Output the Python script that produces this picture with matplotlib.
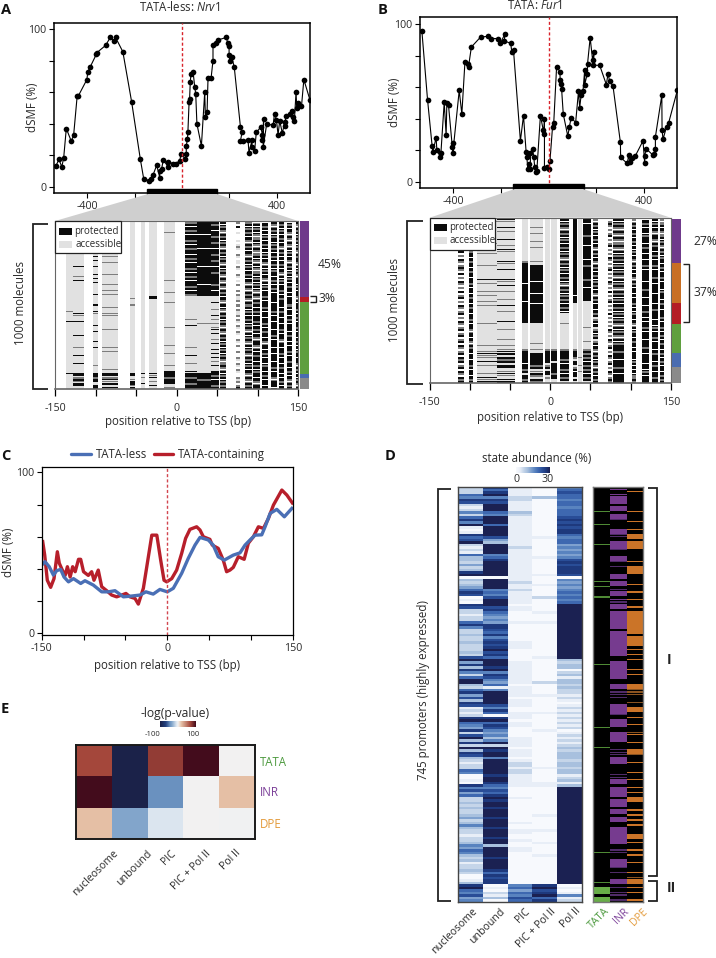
import matplotlib
matplotlib.use("Agg")
import numpy as np
from matplotlib import pyplot as plt
from matplotlib.colors import LinearSegmentedColormap, ListedColormap
from matplotlib.patches import Polygon, Rectangle

plt.rcParams['font.family'] = ['Open Sans', 'DejaVu Sans']
plt.rcParams['mathtext.fontset'] = 'custom'
plt.rcParams['mathtext.it'] = 'Open Sans:italic'
plt.rcParams['mathtext.rm'] = 'Open Sans'

W, H = 716, 958
FS = 8.3
ROT_FS = 7.6
TICK_FS = 7.7
TEXT = '#2a2a2a'

# panel A footprint, position / dSMF
nrv1_x = [-534, -520, -508, -500, -489, -468, -458, -443, -438, -402, -398, -389, -362, -360, -323, -303, -289, -281,
          -250, -213, -176, -162, -140, -130, -123, -107, -94, -94, -86, -79, -59, -59, -38, -27, -10, -4, 13, 18, 18,
          23, 25, 30, 32, 35, 38, 47, 54, 58, 63, 82, 96, 99, 106, 110, 123, 131, 131, 142, 151, 188, 193, 199, 199,
          202, 211, 221, 247, 254, 247, 258, 279, 283, 296, 296, 307, 314, 333, 340, 340, 345, 343, 358, 385, 391,
          399, 406, 413, 424, 434, 436, 438, 455, 465, 469, 475, 482, 485, 491, 505, 515, 541]
nrv1_y = [13, 17.5, 12.7, 18.6, 37, 29, 32.8, 57.7, 57.7, 68, 73, 75.7, 84, 85, 89.6, 94.7, 92.6, 94.7,
          85.6, 54, 17.5, 5.3, 4, 5.3, 7.4, 13.7, 6, 10, 11.6, 17.3, 12.7, 16, 14.8, 14.8, 16.5, 20.7, 18, 20.7, 25.8,
          30.6, 35, 54, 55.4, 66.6, 71.5, 72.7, 63, 59, 40, 26, 60, 44, 47.6, 69, 69, 80, 90, 91, 93, 94.7, 91, 89, 83.5,
          80, 82, 75.7, 38, 35, 29, 29, 30, 21.8, 29.6, 25, 23, 34.5, 38, 33, 29.6, 43, 25, 40, 39, 46.5,
          42.7, 33, 42, 34, 41, 38.5, 45, 46.5, 48, 44, 42, 60, 50, 53, 51, 68, 55]

# panel B footprint
fur1_x = [-532, -508, -489, -486, -472, -469, -455, -452, -438, -430, -427, -420, -404, -402, -402, -375, -364, -351,
          -337, -336, -324, -285, -253, -241, -213, -202, -184, -185, -159, -154, -147, -118, -105, -94, -91, -87, -81,
          -76, -76, -67, -62, -58, -53, -49, -34, -22, -20, -17, -17, -8, 0, 6, 17, 22, 34, 48, 49, 53, 55, 62, 81, 88,
          95, 114, 126, 131, 137, 145, 152, 152, 163, 164, 175, 185, 192, 188, 215, 243, 250, 257, 271, 302, 303, 331,
          337, 341, 351, 365, 397, 404, 404, 410, 438, 444, 449, 449, 476, 477, 481, 496, 505, 541]
fur1_y = [96, 52, 23, 19, 28, 20, 16, 18, 50.5, 29.6, 50, 48.6, 22, 24.7, 18, 58, 43, 76,
          75, 73, 85.6, 92, 92.4, 91, 91, 88, 93.7, 89.4, 88, 82.5, 83.5, 26, 42, 18.8, 15.9, 8, 11,
          8, 18, 20.7, 15.9, 9.5, 6, 7, 42, 32.8, 30.6, 40, 8.5, 9.5, 8, 12.9, 35, 37.4, 73, 70, 64.5, 62, 59, 43, 29, 35,
          40.8, 37.6, 57.5, 47, 55, 57.7, 71, 61.7, 68.7, 75, 91.5, 77.6, 82.5, 74, 74, 61.7, 68.7, 63.8, 60.7, 25, 15.4, 11.6,
          17, 12.7, 14.8, 16.5, 26, 11.6, 16.3, 21, 17, 17.5, 21, 28.5, 55, 33, 27, 35, 37.6, 58]

# panel C averages
less_x = [-150, -146, -141, -136, -132, -127.3, -123.3, -118, -112, -103.4, -98.3, -88.3, -78.3, -70.4, -62.4, -52.4,
          -42.4, -32.5, -25.4, -16.7, -8.7, 0.1, 7.3, 17.3, 25.2, 33.2, 39.2, 49.1, 55, 61, 68.2, 79, 87, 93, 99, 105,
          113, 117, 123, 131, 140, 149]
less_y = [42.4, 44.5, 41.4, 36.2, 39, 39.7, 35, 32, 34, 31, 32.7, 30, 25.8, 25.8, 26.5, 22.7,
          23.2, 23.8, 25.8, 24.4, 27.3, 25.8, 28, 37.3, 46.6, 54.8, 59.6, 58, 54.8, 47.6, 45.5, 48.6, 50, 54.8, 58, 61,
          61.2, 66.2, 74.5, 77, 72.4, 77.6]
cont_x = [-148.8, -146.4, -143.3, -139.3, -135.3, -131.3, -129, -125.7, -122, -119.3, -116, -113, -110, -106, -103.4,
          -100, -94.3, -90.3, -87.5, -82.4, -78.3, -72.3, -66.4, -60.4, -54.4, -49.3, -44.5, -38.5, -34.5, -28.5, -22.5,
          -18.4, -12.4, -7.8, -3.8, -0.6, 5.4, 11.3, 17.3, 22, 27.2, 35.2, 39.2, 43.2, 51, 53.9, 61, 67, 71, 75, 79, 85,
          92, 97, 103, 109, 115, 121, 127, 137, 143, 149.6]
cont_y = [57, 48.6, 33, 28.6, 34, 50.7, 43.6, 39.7, 36, 41.4, 35, 41.4, 38.3, 46, 46,
          38.3, 36, 38.3, 33, 39.3, 29, 26.5, 23.8, 22.7, 23.8, 24.8, 22.7, 21.7, 18.2, 28, 47.6,
          61, 61, 45.5, 33, 32, 34, 39.3, 49.7, 59, 64.6, 66.2, 64.2, 60, 58.4, 54.8, 52.8, 45.5, 38.3, 39.3, 41, 47.6,
          46, 56, 60, 66.2, 65.2, 71.4, 79.7, 89, 85.9, 81]

# single molecule panels, one string per site group, one char per molecule bin:
# '-' no site, '_' thin gap, '.' accessible, '+' mixed, '#' protected, ';' thin mixed, ':' thin protected
a_states = [45, 3, 43, 2.5, 6.5]
a_state_colors = ['#6f3a8b', '#b41d25', '#5f9f3f', '#4a6cb0', '#8a8a8a']
a_cols = [(-136, -128), (-128, -114), (-103, -97), (-92, -72), (-58, -51), (-44, -39), (-34, -24), (-15.5, -2),
          (11, 25), (25, 42), (42, 53), (54, 61), (73, 78), (85, 93), (93.5, 103), (106, 113), (117, 124), (127, 133),
          (136, 142), (147, 150)]
a_reads = [
    ".......... .......... .......... .......... .....;.... :......... .......... ......:... ....",
    ".......... .......... ...:....;. :......... ......:;.. :......:.. ...;...:.. .:....#:+# ;#:.",
    ".......... ........:. :..:...:.: .:.....:.. ..:..:;... ..:..:.... :..:...... ..;...##+# :.##",
    ".......... ........;. .;.....;.. ..;..;.;.. ...;..;;.. ....;..... ...;.;.... ....;.#:+: ;#.:",
    ".......... .......... .......... .........; ..;....... .......... .......... ......#:.; ##;#",
    ".......... .......... .......... .......... .......... .......... .......... ......:.;. .:..",
    ".......... .......... .......... ........#: .......... .......... .......... ......:;:. ;.:.",
    "......;... .......... .......... ;.....;... .;........ ...;...... ..;...;... ..;..###+# #:.;",
    "#+#_#+#_## +#_#+##_#+ #_##+#_#+# _##+#_#+.. .........; ..:....... ...;...:.. .;...:##+# #+##",
    "#######_## ####_##### ###_###### ##_#####.. .......... .;........ .......... ......###+ ####",
    "##+##_##+# #+##_##+## +##_##+### ##+##_##.. .:..;..:.; .;.;:.:..; .:..:.:.:. ;.:..##+#_ ##+#",
    "+#_+#+_#+# _+#+_#+#_+ #+_#_+#+_# +_#+_#+#_# +_#_+_#+#_ +#+_#+_#+# _+#_+#_+#+ _+#+_#_+#_ +#+#",
    "-+-#--.--- .-.+.--+.- ..-+.--+.- .-+--+-+.. +-+-+..+-+ .-+.-+.--+ .-+--+--+. -+.-+.--+. +-+#",
    "#+#_+#+#_# +_#+#_#+_# +#_+#_#+#_ #+_#+_#+#+ _#+#_+#_#+ #_+#+_#_+# +_#_+#+_#+ #_+#_#+_#+ _#+#",
    "+_#_+#_+_+ #_+_#+_+#_ +_#_+_+#_+ #_+#_+_#+_ #+#_#+#_## +#_#+#_#+_ ##+_#_#+## _#+#_+##_# +_##",
    "#_#+#_#_+# _#+#_#_+#_ #+_#_+#_#+ _#_+#_##+# _##+#_##_# #+#_#+##_# +_##_#+#_# #_+##_#+#_ ##_#",
    "+#+_#+#_+# #_+#+#_#+# _#+#_+##_# +#_#+#_### #_###+#_## _###_##+#_ ###_##_### _##+#_##+_ ###_",
    "_#+#_+#_#+ #_#+_#+#_# _#+#_#+_#_ +#_##+#_#+ ###_#+##_# #_##+#_##+ _##_##+#_# #_#+##_#_# +#_#",
    "#_+#_#+_#+ _#+_#_+#_# +_#+#_+#_+ #_#+##_#_# ##+#_##_#+ #_###_#+## _#_##+#_## +##_#+#_#+ _#+#",
    "+#+_#+#_+# +#_+#+_#+# #+_#_+#+_# ##_+#_##+_ #_##+#_#+# _##+#_##_# +#_#_+##_# #+_#+#_#_+ #+_#",
]

b_states = [27, 24.5, 12.5, 17.5, 9, 9.5]
b_state_colors = ['#6f3a8b', '#c86f24', '#b41d25', '#5f9f3f', '#4a6cb0', '#8a8a8a']
b_cols = [(-114.7, -108.5), (-102, -96), (-90.7, -67.4), (-66, -44), (-35.5, -27.6), (-25.5, -9), (-6.8, -1), (0.6, 8),
          (12, 23), (27.6, 33.4), (34, 39), (39.7, 51), (53, 58.7), (72, 77), (78, 90.7), (100.7, 106.5), (114, 123),
          (126.4, 134), (136, 141)]
b_reads = [
    "-+-#+-+-#+ -+#-+-+#-+ -#+-+#+-#- +-#+-+-#-+ #-+-#+-+#- +-#+-+#-+# -+#-#+-+#- #+#-+#-#+- #+#",
    "#+#_##+#_# #+_##_#+## _#+##_#+## _##+#_##_# +##_#+##_# #+#_##+_## _#+_#+##_# #_##+#_##_ #+#",
    "..;....... ...;....;. ....;..... .:.;...;.; ..;.;..... ...;...... ....;..;:; ;.:.;...;. :;:",
    ".:;..:.;.. .:..;.:;.. ..:;..:... .:;.:..;.. .;..:..;.. ..:...;... .;..;.;:#. #+#.#:.;:; .:#",
    ".......... .......... ..+####### ###_###### ##_####### ###....... ......+### ###_##+#.# #+#",
    ".....;..;. ..;..;.... ..;.###### ##_#####_# ###_###### ###....... ...;..;.## ####+#.;#+ .#+",
    ".......... .......... .......... .......... .......... .......... ......+### ###.+#.##. +..",
    ".......... .......... .......... .......... .......... .......... ......+### ##.#####+# #..",
    "+#_+#+_#+# _+#_#+#_+# +_#+#_+#_# +#_+_#+#_+ #+#_#+#_.. ...;...... ......+### #+#_##+#_# +#.",
    "########## ########## ########## #########_ ###....... .......... ......+### +.##.+#_## .#.",
    ".......... .......... .......... .......... .......... .......... .......... ;...;..;.. ...",
    "###_#####+ ####_##### #_##+##### #+###_#### ##........ .....;.... ..;...+#+# +#_#+#+#_# +#.",
    "#+_#+#_+#_ #+#_#+_#+# _#+_#+#_#+ #_+#+#_#+_ #+#_##_#+# .+#_#.+#_+ #.+#_#+_#+ #_+#+_#+#_ #+#",
    "+-+#+-+-+# -+-+#-+-+- #+-+-+#-+- +-#+-+-#-+ -+#-+-+-#- +-+-+-#+-+ -#+-+#-+-# +-+#-+-#+- +#+",
    "+#_+#+_#+_ #+_+#+_#_+ #+#_+#_+#+ _#_+#+_#+# _+#_#+#_+# _+#+_#_+#+ _#_+###+## #_###+##_# ###",
    "#+_#+#_#+# _#+#_#_+#_ #+_#+#_#_# +_#+#_##_# _##+#_#_+# #_#+_#_+## _#+##_#_## #_+#_#_#_+ +#+",
    "#_#+#_##_+ ###_#+##_# #_##+#_### ##_###+### _###_##+## _#_##+#_## #_###+##_# ###_##_+#_ ###",
    "+#_+#_#+_# #+_#+##_#+ #_##+#_### +##_####_# ###_##+### #_##_+#_## +#_###_#+# ##_#+##_## +##",
    "#+_+#_#+_+ #_+#+_#+#_ +##_#+#_## +#_###_+## #_#+##_### +#_##+#_#+ #_#+##_#+# _#+#_##_#+ #+#",
]

# panel D, digits are abundance bins
d_states = ['nucleosome', 'unbound', 'PIC', 'PIC + Pol II', 'Pol II']
d_motifs = ['TATA', 'INR', 'DPE']
nucleosome = ("2226587" "212" "526" "859" "101" "8679" "2121" "63" "32423" "89" "0" "3234" "687" "010" "87" "22122" "685"
              "22322322232" "794838" "526" "993" "26847387" "1212" "89654" "8279382" "93873" "2122" "65" "0010" "85746"
              "223232" "2342353" "221223" "54653" "2312232" "001" "3" "8965745")
unbound = ("8689587" "999" "659" "996" "9999" "743" "9999" "568" "99999" "90" "9999" "5657" "999" "786" "5454" "887"
           "6857" "8789786" "99989" "587" "54615" "99999" "7586" "0" "896875" "4535" "92989" "95" "999999" "8998"
           "65768" "9899899989998999899" "3" "999989999" "868788" "0102130")
pic = ("1111221111" "3211111111" "1111211111" "1111111121" "1211111011" "0000100000" "0011100000" "1111111110"
       "1111011100" "1110110000" "1111011101" "2212211111" "0000100000" "0000100110" "0100110000" "000000000" "5646576")
pic_pol = ("0000300000" "0000000000" "1000000010" "0000010001" "0000200000" "1000100000" "0000000010" "0000000020"
           "0001000000" "1000000100" "0000000000" "0010000011" "0000000000" "0100000100" "0010000100" "000000000" "8978968")
pol = ("5676656" "656" "667" "878788" "6566" "454545" "7878887" "0" "54545" "65656" + "9" * 22 +
       "32330231" "33232" "21210" "12121" "212120" "121212" "323332" "33233" "12313" + "9" * 39 + "0101512")

# motif rows: solid runs, single thin lines, and dim thin lines
tata_thin = [10, 15, 23, 38, 40, 44, 71, 96, 104, 146, 158]
tata_full = [160, 161, 162, 164, 165]
inr_full = [4, 5, 6, 8, 9, 11, 12, 17, 18, 22, 23, 24, 28, 29, 35, 36, 38, 39, 42, 43, 47, 48, 50, 51, 52, 53, 54,
            55, 56, 58, 59, 60, 61, 62, 63, 64, 65, 66, 67, 70, 71, 72, 73, 74, 75, 76, 79, 80, 87, 88, 89, 90, 93, 94, 95,
            98, 99, 100, 101, 108, 109, 110, 117, 118, 120, 121, 122, 123, 125, 126, 127, 129, 130, 132, 133, 136, 137,
            138, 139, 140, 141, 142, 149, 150, 151, 157, 158]
inr_thin = [1, 3, 45]
inr_dim = [13, 19, 20, 25, 30, 32, 41, 46, 82, 83, 84, 91, 105, 106, 107, 115, 116, 145, 146, 152, 154, 160, 162, 163, 165]
dpe_full = [19, 20, 22, 23, 24, 32, 33, 34, 50, 51, 52, 53, 54, 55, 56, 57, 58, 60, 61, 62, 63, 79, 80, 88, 89, 105, 106,
            124, 125, 139, 140, 157, 158]
dpe_thin = [0, 2, 10, 14, 17, 30, 39, 42, 45, 48, 65, 67, 69, 73, 75, 92, 95, 99, 102, 110, 114, 117, 120, 122, 129, 131,
            133, 135, 142, 145, 147, 150, 154, 160, 162, 165]
dpe_dim = [81, 82, 83, 86, 98, 107, 156]

# panel E, enrichment
e_states = ['nucleosome', 'unbound', 'PIC', 'PIC + Pol II', 'Pol II']
e_motifs = ['TATA', 'INR', 'DPE']
e_values = [[70, -100, 75, 100, 0],
            [100, -100, -45, 0, 20],
            [20, -35, -10, 0, -1]]

fig = plt.figure(figsize=(W / 100, H / 100), dpi=100)


def px_axes(left, top, right, bottom):
    return fig.add_axes([left / W, 1 - bottom / H, (right - left) / W, (bottom - top) / H])


def footprint(box, x, y, y_lim):
    ax = px_axes(*box)
    ax.plot(x, y, '-o', color='black', lw=0.8, ms=4.1, mew=0)
    ax.set_xlim(-541, 541)
    ax.set_ylim(*y_lim)
    ax.set_xticks([-400, -200, 0, 200, 400], ['-400', '', '0', '', '400'])
    ax.set_yticks([0, 20, 40, 60, 80, 100], ['0', '', '', '', '', '100'])
    ax.tick_params(labelsize=TICK_FS, length=3.5, width=0.8, pad=2, labelcolor=TEXT)
    ax.axvline(0, color='#d8232a', lw=1, ls=(0, (2.2, 1.6)), zorder=3)
    # black bar marks the zoomed region
    ax.add_patch(Rectangle((-150, y_lim[0] - 0.9), 300, 3.4, color='black', clip_on=False, zorder=4))
    for s in ax.spines.values():
        s.set_linewidth(1.1)
    return ax


def reads_panel(box, cols, reads, n_rows):
    ax = px_axes(*box)
    mat = np.zeros((n_rows * 2, 300), dtype=int)
    code = {'-': (0, 0), '.': (1, 1), '+': (2, 2), '#': (3, 3), ';': (2, 1), ':': (3, 1)}
    for (start, end), read in zip(cols, reads):
        read = read.replace(' ', '').ljust(n_rows, '.')[:n_rows]
        i0, i1 = int(round(start + 150)), int(round(end + 150))
        prev = 3
        for r, ch in enumerate(read):
            top, low = (0, prev) if ch == '_' else code[ch]
            mat[2 * r, i0:i1] = top
            mat[2 * r + 1, i0:i1] = low
            prev = low
    cmap = ListedColormap(['white', '#e1e1e1', '#7d7d7d', '#0c0c0c'])
    ax.imshow(mat, cmap=cmap, vmin=0, vmax=3, aspect='auto', extent=(-150, 150, n_rows, 0), interpolation='nearest')
    ax.set_xticks(np.arange(-150, 151, 50), ['-150', '', '', '0', '', '', '150'])
    ax.set_yticks([])
    ax.tick_params(labelsize=TICK_FS, length=5, width=0.9, pad=5, labelcolor=TEXT)
    for s in ax.spines.values():
        s.set_color('#666666')
        s.set_linewidth(0.8)
    ax.spines['bottom'].set_linewidth(1.2)
    return ax


def state_bar(box, states, colors):
    ax = px_axes(*box)
    ax.bar(np.zeros(len(states)), states, bottom=np.cumsum([0] + states[:-1]), width=1, color=colors)
    ax.set_ylim(sum(states), 0)
    ax.set_xlim(-0.5, 0.5)
    ax.axis('off')


# panels A, B
ax_a = footprint((54, 23, 310, 193), nrv1_x, nrv1_y, (-3.8, 103.8))
ax_b = footprint((419.7, 17.3, 677.3, 188), fur1_x, fur1_y, (-4, 104.5))
heat_a = reads_panel((55, 221, 298, 389), a_cols, a_reads, 84)
heat_b = reads_panel((429.7, 217.7, 670.7, 383), b_cols, b_reads, 83)
state_bar((300, 221, 309, 389), a_states, a_state_colors)
state_bar((671.7, 219, 680.7, 383), b_states, b_state_colors)

# panel C
ax_c = px_axes(41.7, 466.7, 292.7, 635)
ax_c.plot(cont_x, cont_y, color='#b71f2b', lw=2.4, solid_joinstyle='round')
ax_c.plot(less_x, less_y, color='#4a6fb5', lw=2.4, solid_joinstyle='round')
ax_c.axvline(0, color='#d2464f', lw=1, ls=(0, (2.2, 1.6)))
ax_c.set_xlim(-150, 150)
ax_c.set_ylim(-1, 103.5)
ax_c.set_xticks(np.arange(-150, 151, 50), ['-150', '', '', '0', '', '', '150'])
ax_c.set_yticks([0, 20, 40, 60, 80, 100], ['0', '', '', '', '', '100'])
ax_c.tick_params(labelsize=TICK_FS, length=3.5, width=0.8, pad=2, labelcolor=TEXT)
for s in ax_c.spines.values():
    s.set_linewidth(0.9)

# panel D
d_cmap = LinearSegmentedColormap.from_list('abund', ['#f7f9fd', '#e8eef7', '#c5d5e9', '#a8c0de', '#7fa1cf', '#5a84c0',
                                                     '#3e68b0', '#2a4e98', '#1f3a7e', '#1b2152'])
ax_d = px_axes(458, 486.7, 582, 902)
d_mat = np.array([[int(c) for c in s[:166].ljust(166, '0')] for s in (nucleosome, unbound, pic, pic_pol, pol)]).T
ax_d.imshow(d_mat, cmap=d_cmap, vmin=0, vmax=9, aspect='auto', interpolation='nearest')
ax_d.set_xticks([])
ax_d.set_yticks([])
for s in ax_d.spines.values():
    s.set_color('#444444')
    s.set_linewidth(1)

ax_m = px_axes(592.7, 486.7, 643.3, 902)
m_mat = np.zeros((332, 3), dtype=int)
for col, val, full, thin in [(0, 2, tata_full, tata_thin), (1, 4, inr_full, inr_thin), (2, 6, dpe_full, dpe_thin)]:
    for r in full:
        m_mat[2 * r:2 * r + 2, col] = val
    for r in thin:
        m_mat[2 * r, col] = val
m_mat[[2 * r for r in tata_thin], 0] = 1
m_mat[[2 * r for r in inr_dim], 1] = 3
m_mat[[2 * r for r in dpe_dim], 2] = 5
m_cmap = ListedColormap(['black', '#4f8a35', '#68ad48', '#4f2b68', '#763b8f', '#8a5320', '#cb7428'])
ax_m.imshow(m_mat, cmap=m_cmap, vmin=0, vmax=6, aspect='auto', interpolation='nearest')
ax_m.set_xticks([])
ax_m.set_yticks([])
for s in ax_m.spines.values():
    s.set_color('#777777')
    s.set_linewidth(1)

ax_dbar = px_axes(516, 466.7, 550, 472.7)
ax_dbar.imshow(np.linspace(0, 1, 64)[None, :], cmap=d_cmap, aspect='auto')
ax_dbar.axis('off')

# panel E
e_cmap = LinearSegmentedColormap.from_list('enrich', [(0, '#1b2249'), (0.15, '#22407f'), (0.275, '#6b92c0'), (0.325, '#82a5cb'),
                                                     (0.45, '#dbe5ef'), (0.5, '#f3f3f3'), (0.6, '#e5bfa5'), (0.85, '#a5483c'),
                                                     (1, '#430c1c')])
ax_e = px_axes(76, 745, 255, 839)
ax_e.imshow(e_values, cmap=e_cmap, vmin=-100, vmax=100, aspect='auto', interpolation='nearest')
ax_e.set_xticks([])
ax_e.set_yticks([])
for s in ax_e.spines.values():
    s.set_linewidth(1.4)
    s.set_color('#1a1a1a')
ax_ebar = px_axes(160, 721, 196, 727)
ax_ebar.imshow(np.linspace(-100, 100, 64)[None, :], cmap=e_cmap, vmin=-100, vmax=100, aspect='auto')
ax_ebar.axis('off')

# everything else sits on a pixel overlay
ov = fig.add_axes([0, 0, 1, 1], zorder=10)
ov.set_xlim(0, W)
ov.set_ylim(H, 0)
ov.axis('off')
ov.patch.set_alpha(0)


def bracket(xs, ys, lw=1.3, color='#222222'):
    ov.plot(xs, ys, color=color, lw=lw, solid_joinstyle='miter', solid_capstyle='butt')


def txt(x, y, s, **kw):
    kw.setdefault('fontsize', FS)
    kw.setdefault('color', TEXT)
    kw.setdefault('ha', 'center')
    kw.setdefault('va', 'center')
    ov.text(x, y, s, **kw)


# zoom wedges
ov.add_patch(Polygon([(148, 194), (217, 194), (298, 221), (55, 221)], color='#cfcfcf', lw=0))
ov.add_patch(Polygon([(514.7, 189), (583, 189), (670.7, 217.7), (429.7, 217.7)], color='#cfcfcf', lw=0))

# panel letters
for x, y, s in [(6, 10, 'A'), (383, 10, 'B'), (6, 456, 'C'), (390, 456, 'D'), (5, 709, 'E')]:
    txt(x, y, s, fontsize=10.5, fontweight='bold', color='#111111')

txt(180, 7, r'TATA-less: $\it{Nrv1}$')
txt(535, 5, r'TATA: $\it{Fur1}$')
txt(32, 107, 'dSMF (%)', rotation=90)
txt(395, 102, 'dSMF (%)', rotation=90)

# legends of the read panels
for x0, y0, xt1, xt2, yt1, yt2, x1, y1 in [(54.5, 221, 74, 76, 231, 244, 121, 253), (430, 218, 449, 450, 227, 240, 495, 249.5)]:
    ov.add_patch(Rectangle((x0, y0), x1 - x0, y1 - y0, fc='white', ec='#222222', lw=0.9))
    ov.add_patch(Rectangle((x0 + 4, yt1 - 3.5), 13, 7, fc='#0c0c0c', lw=0))
    ov.add_patch(Rectangle((x0 + 4, yt2 - 3.5), 13, 7, fc='#e1e1e1', lw=0))
    txt(xt1, yt1, 'protected', ha='left', fontsize=7)
    txt(xt2, yt2, 'accessible', ha='left', fontsize=7)

# molecule brackets and state labels
bracket([48, 32.5, 32.5, 48], [224, 224, 389, 389])
txt(21, 303, '1000 molecules', rotation=90)
txt(178, 421, 'position relative to TSS (bp)')
txt(330, 264, '45%', fontsize=8.7)
txt(327, 298, '3%', fontsize=8.7)
bracket([310, 316, 316, 310], [296, 296, 301.7, 301.7], lw=1)
bracket([423, 406.5, 406.5, 423], [221, 221, 384, 384])
txt(395, 300, '1000 molecules', rotation=90)
txt(550, 417, 'position relative to TSS (bp)')
txt(705, 241, '27%', fontsize=8.7)
txt(705, 292, '37%', fontsize=8.7)
bracket([683, 689, 689, 683], [264, 264, 322, 322], lw=1)

# panel C legend
ov.plot([71, 90.7], [454, 454], color='#4a6fb5', lw=2.4, solid_capstyle='round')
txt(96, 454, 'TATA-less', ha='left')
ov.plot([154, 173], [454, 454], color='#b71f2b', lw=2.4, solid_capstyle='round')
txt(178, 454, 'TATA-containing', ha='left')
txt(9, 552, 'dSMF (%)', rotation=90)
txt(167, 665, 'position relative to TSS (bp)')

# panel D labels
txt(537, 458, 'state abundance (%)')
txt(516, 479, '0', fontsize=TICK_FS)
txt(548, 479, '30', fontsize=TICK_FS)
txt(423, 690, '745 promoters (highly expressed)', rotation=90)
bracket([451, 437.5, 437.5, 451], [489, 489, 901, 901])
bracket([648, 656.5, 656.5, 648], [488, 488, 876, 876])
bracket([648, 656.5, 656.5, 648], [881, 881, 901, 901])
txt(669, 660, 'I', fontsize=10, fontweight='bold', color='#222222')
txt(671, 888, 'II', fontsize=10, fontweight='bold', color='#222222')
for x, s in zip([472, 500, 524, 550, 575], d_states):
    txt(x, 906, s, rotation=45, ha='right', va='top', rotation_mode='anchor', fontsize=ROT_FS)
motif_colors = ['#4d9a3f', '#7b3f98', '#e39a3a']
for x, s, c in zip([604, 624, 642], d_motifs, motif_colors):
    txt(x, 906, s, rotation=45, ha='right', va='top', rotation_mode='anchor', color=c, fontsize=ROT_FS)

# panel E labels
txt(175, 713, '-log(p-value)', fontsize=8.7)
txt(153, 734, '-100', fontsize=5.5)
txt(193, 734, '100', fontsize=5.5)
for y, s, c in zip([762, 792, 825], e_motifs, motif_colors):
    txt(260, y, s, ha='left', color=c)
for x, s in zip([113, 147, 170, 205, 235], e_states):
    txt(x, 848, s, rotation=45, ha='right', va='top', rotation_mode='anchor', fontsize=ROT_FS)

fig.savefig('out.png', dpi=100)
